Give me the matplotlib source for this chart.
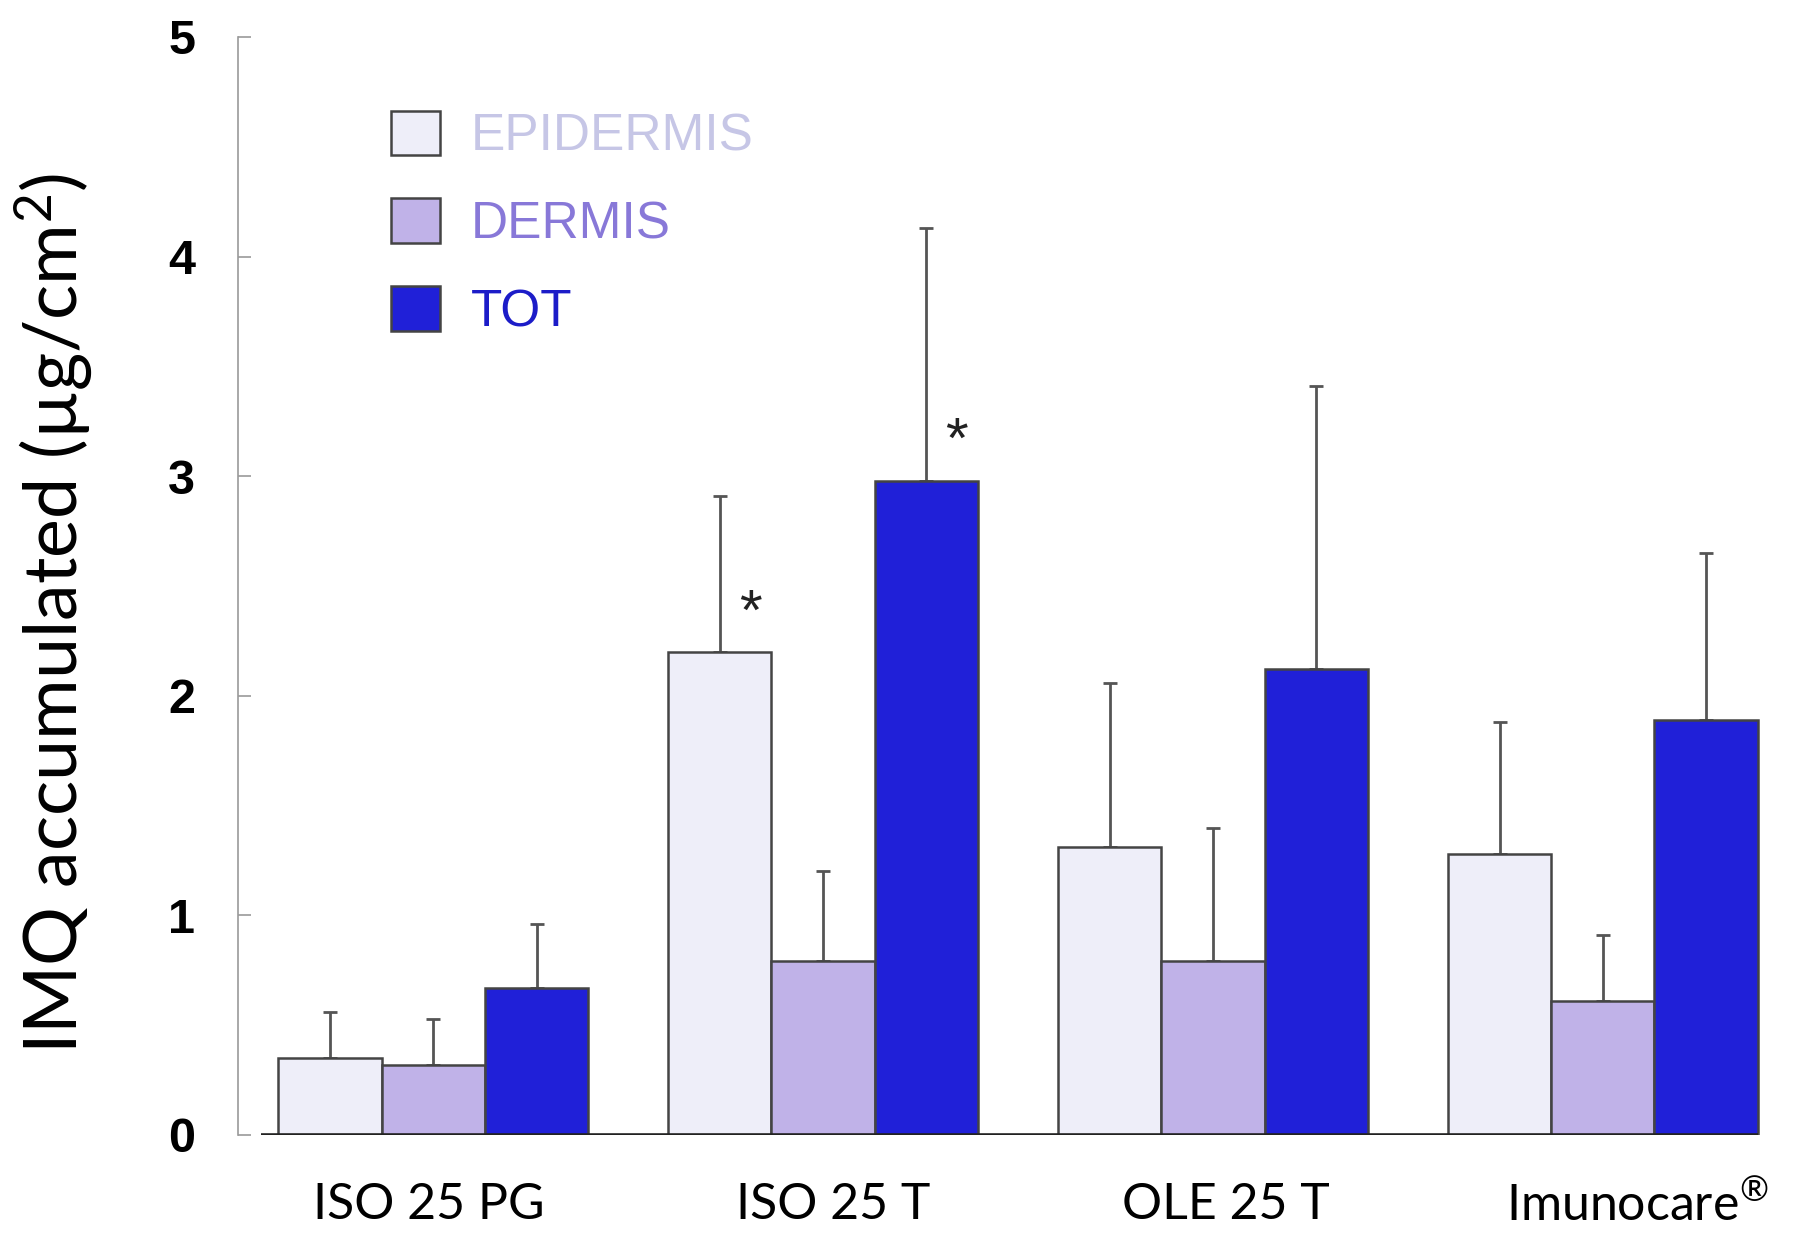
import numpy as np
import matplotlib
matplotlib.use("Agg")
import matplotlib.pyplot as plt
from matplotlib.transforms import ScaledTranslation

# ── data ──────────────────────────────────────────────────────────────────────
groups = ["ISO 25 PG", "ISO 25 T", "OLE 25 T", "Imunocare$^{®}$"]
series = ["EPIDERMIS", "DERMIS", "TOT"]

epi_mean  = [0.35, 2.20, 1.31, 1.28]
epi_sd    = [0.21, 0.71, 0.75, 0.60]
derm_mean = [0.32, 0.79, 0.79, 0.61]
derm_sd   = [0.21, 0.41, 0.61, 0.30]
tot_mean  = [0.67, 2.98, 2.12, 1.89]
tot_sd    = [0.29, 1.15, 1.29, 0.76]

# (group index, series index) flagged with *
significant = [(1, 0), (1, 2)]

yticks = [0, 1, 2, 3, 4, 5]

# ── style ─────────────────────────────────────────────────────────────────────
plt.rcParams["mathtext.fontset"] = "custom"
plt.rcParams["mathtext.rm"] = "Lato"
plt.rcParams["mathtext.it"] = "Lato"

fills      = ["#eeeef9", "#c0b2e8", "#2020d8"]
text_cols  = ["#c6c6e6", "#8878d8", "#1c1cc8"]
edge       = "#444444"
err_col    = "#555555"

means = [epi_mean, derm_mean, tot_mean]
sds   = [epi_sd, derm_sd, tot_sd]

x     = np.arange(len(groups))
width = 0.265

fig = plt.figure(figsize=(18.06, 12.37), dpi=100)
ax = fig.add_axes([0.132, 0.0825, 0.844, 0.8876])

for i, (m, s) in enumerate(zip(means, sds)):
    pos = x + (i - 1) * width
    ax.bar(pos, m, width, color=fills[i], edgecolor=edge, linewidth=1.8,
           label=series[i], zorder=3)
    ax.errorbar(pos, m, yerr=[np.zeros(len(m)), s], fmt="none", ecolor=err_col,
                elinewidth=2.0, capsize=5, capthick=2.0, zorder=2)

for g, si in significant:
    bx = x[g] + (si - 1) * width
    ax.text(bx + 0.078, means[si][g] + 0.17, "*", ha="center", va="center",
            fontsize=42, family="Liberation Sans", color="#222222")

# baseline
left_edge  = x[0] - 1.5 * width
right_edge = x[-1] + 1.5 * width
ax.hlines(0, left_edge - 0.045, right_edge, color="#222222", lw=2.6, zorder=4)

ax.set_xlim(-0.5, 3.41)
ax.set_ylim(0, 5)
ax.set_yticks(yticks)
ax.set_yticklabels([str(t) for t in yticks], fontsize=35, fontweight="bold",
                   family="Liberation Sans")
ax.tick_params(axis="y", direction="in", length=9, width=1.2, color="#9a9a9a", pad=31)
ax.set_xticks(x)
ax.set_xticklabels(groups, fontsize=36, family="Lato")
ax.tick_params(axis="x", length=0, pad=34)

# small horizontal nudges of the category labels, as in the original
nudges_pt = [-3, 7, 9, 25]
for lbl, dx in zip(ax.get_xticklabels(), nudges_pt):
    lbl.set_transform(lbl.get_transform() + ScaledTranslation(dx / 72, 0, fig.dpi_scale_trans))

for sp in ["top", "right", "bottom"]:
    ax.spines[sp].set_visible(False)
ax.spines["left"].set_color("#9a9a9a")
ax.spines["left"].set_linewidth(1.2)

ax.set_ylabel("IMQ accumulated (µg/cm$^{2}$)", fontsize=53, family="Lato")
ax.yaxis.set_label_coords(-0.094, 0.475)

leg = ax.legend(loc="upper left", bbox_to_anchor=(0.1, 0.933), frameon=False,
                prop={"family": "Liberation Sans", "size": 37},
                handlelength=0.95, handleheight=0.95, handletextpad=0.6,
                labelspacing=0.72, borderpad=0, borderaxespad=0)
for t, c in zip(leg.get_texts(), text_cols):
    t.set_color(c)

fig.savefig("out.png", dpi=100)
